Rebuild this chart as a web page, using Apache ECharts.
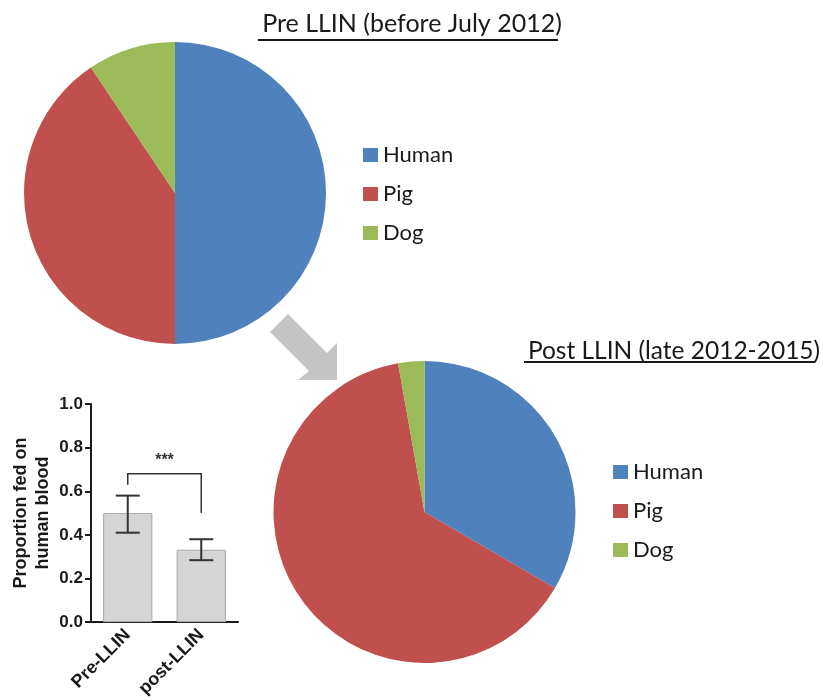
<!DOCTYPE html>
<html>
<head>
<meta charset="utf-8">
<script src="https://cdn.jsdelivr.net/npm/echarts@6/dist/echarts.min.js"></script>
<style>
  html, body { margin: 0; padding: 0; background: #fff; }
  #chart { width: 823px; height: 700px; }
</style>
</head>
<body>
<div id="chart"></div>
<script>
// Blood-meal sources of mosquitoes before and after LLIN distribution
const hosts = ['Human', 'Pig', 'Dog'];
const hostColors = ['#4f81bd', '#c0504d', '#9bbb59'];
const preShares = [0.50, 0.406, 0.094];
const postShares = [0.334, 0.638, 0.028];

// Proportion fed on human blood, with error bar limits
const periods = ['Pre-LLIN', 'post-LLIN'];
const humanProportion = [0.50, 0.332];
const errLow = [0.41, 0.284];
const errHigh = [0.58, 0.38];
// Significance bracket: level and the lower end of each leg
const bracketLevel = 0.68;
const bracketLegEnds = [0.63, 0.50];
const yTicks = [0, 0.2, 0.4, 0.6, 0.8, 1.0];

const titleFont = 'Lato, "Open Sans", sans-serif';
const axisFont = '"Liberation Sans", Arial, sans-serif';

const chart = echarts.init(document.getElementById('chart'), null, { renderer: 'canvas' });

function pieData(shares) {
  return hosts.map((h, i) => ({ name: h, value: shares[i], itemStyle: { color: hostColors[i] } }));
}

const legendText = { fontFamily: titleFont, fontSize: 22, color: '#1a1a1a' };

const option = {
  animation: false,
  backgroundColor: '#fff',
  title: [
    { text: 'Pre LLIN (before July 2012)', left: 407, top: 6, textAlign: 'center',
      textStyle: { fontFamily: titleFont, fontSize: 25, fontWeight: 'normal', color: '#1a1a1a' } },
    { text: 'Post LLIN (late 2012-2015)', left: 669, top: 334, textAlign: 'center',
      textStyle: { fontFamily: titleFont, fontSize: 24.5, fontWeight: 'normal', color: '#1a1a1a' } }
  ],
  legend: [
    { data: hosts, orient: 'vertical', left: 358, top: 139, icon: 'rect',
      itemWidth: 15, itemHeight: 14, itemGap: 17, selectedMode: false,
      textStyle: legendText },
    { data: hosts, orient: 'vertical', left: 608, top: 456, icon: 'rect',
      itemWidth: 15, itemHeight: 14, itemGap: 17, selectedMode: false,
      textStyle: legendText }
  ],
  grid: { left: 91, top: 404, width: 147, height: 221, containLabel: false },
  xAxis: {
    type: 'category', data: periods, boundaryGap: true,
    axisLine: { lineStyle: { color: '#1a1a1a', width: 2 } },
    axisTick: { alignWithLabel: true, length: 6, lineStyle: { color: '#1a1a1a', width: 2 } },
    axisLabel: { rotate: 45, margin: 10, interval: 0,
      fontFamily: axisFont, fontWeight: 'bold', fontSize: 18, color: '#1a1a1a' }
  },
  yAxis: {
    type: 'value', min: 0, max: 1, interval: 0.2,
    name: 'Proportion fed on\nhuman blood', nameLocation: 'middle', nameGap: 37,
    nameTextStyle: { fontFamily: axisFont, fontWeight: 'bold', fontSize: 18, color: '#1a1a1a', lineHeight: 22 },
    axisLine: { show: true, lineStyle: { color: '#1a1a1a', width: 2 } },
    axisTick: { show: true, length: 6, lineStyle: { color: '#1a1a1a', width: 2 } },
    splitLine: { show: false },
    axisLabel: { margin: 8, fontFamily: axisFont, fontWeight: 'bold', fontSize: 17, color: '#1a1a1a',
      formatter: v => yTicks.includes(+v.toFixed(1)) ? v.toFixed(1) : '' }
  },
  series: [
    { type: 'pie', center: [175, 193], radius: 151, startAngle: 90, clockwise: true,
      label: { show: false }, labelLine: { show: false }, silent: true,
      data: pieData(preShares) },
    { type: 'pie', center: [424.5, 512], radius: 151, startAngle: 90, clockwise: true,
      label: { show: false }, labelLine: { show: false }, silent: true,
      data: pieData(postShares) },
    { type: 'bar', data: humanProportion, barWidth: '67%', silent: true,
      itemStyle: { color: '#d5d5d5', borderColor: '#a9a9a9', borderWidth: 1 } },
    { type: 'custom', silent: true, z: 5,
      data: periods.map((p, i) => [i, errLow[i], errHigh[i]]),
      renderItem: function (params, api) {
        const lo = api.coord([api.value(0), api.value(1)]);
        const hi = api.coord([api.value(0), api.value(2)]);
        const half = 12;
        const st = { stroke: '#333', lineWidth: 2, fill: null };
        return { type: 'group', children: [
          { type: 'line', shape: { x1: lo[0], y1: lo[1], x2: hi[0], y2: hi[1] }, style: st },
          { type: 'line', shape: { x1: lo[0] - half, y1: lo[1], x2: lo[0] + half, y2: lo[1] }, style: st },
          { type: 'line', shape: { x1: hi[0] - half, y1: hi[1], x2: hi[0] + half, y2: hi[1] }, style: st }
        ] };
      } },
    { type: 'custom', silent: true, z: 5,
      data: [[0, 1, bracketLevel, bracketLegEnds[0], bracketLegEnds[1]]],
      renderItem: function (params, api) {
        const a = api.coord([api.value(0), api.value(3)]);
        const b = api.coord([api.value(0), api.value(2)]);
        const c = api.coord([api.value(1), api.value(2)]);
        const d = api.coord([api.value(1), api.value(4)]);
        return { type: 'group', children: [
          { type: 'polyline', shape: { points: [a, b, c, d] },
            style: { stroke: '#333', lineWidth: 1.5, fill: null } },
          { type: 'text', x: (b[0] + c[0]) / 2, y: b[1] - 5,
            style: { text: '***', align: 'center', verticalAlign: 'bottom',
              font: 'bold 16px ' + axisFont, fill: '#333' } }
        ] };
      } }
  ],
  graphic: [
    // underlines of the two titles
    { type: 'rect', shape: { x: 258, y: 39, width: 300, height: 2 }, style: { fill: '#1a1a1a' } },
    { type: 'rect', shape: { x: 524, y: 361, width: 291, height: 2 }, style: { fill: '#1a1a1a' } },
    // grey arrow from the first pie towards the second
    { type: 'polygon', z: 10,
      shape: { points: [[288, 314], [327, 353], [337, 343], [337, 380], [298, 380], [309, 371], [270, 332]] },
      style: { fill: '#c4c4c4' } }
  ]
};

chart.setOption(option);
</script>
</body>
</html>
